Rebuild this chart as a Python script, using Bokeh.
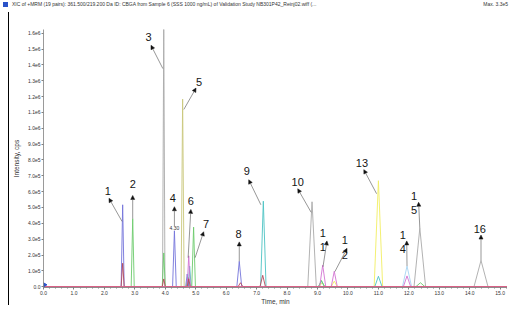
import numpy as np
from bokeh.plotting import figure
from bokeh.models import Range1d, FixedTicker, Arrow, NormalHead, ColumnDataSource, Div
from bokeh.layouts import column, row
from bokeh.core.properties import value
from bokeh.embed import file_html
from bokeh.resources import INLINE

# ---------------- texts ----------------
TITLE = "XIC of +MRM (19 pairs): 361.500/219.200 Da ID: CBGA from Sample 6 (SSS 1000 ng/mL) of Validation Study NB301P42_Reinj02.wiff (..."
MAX_TEXT = "Max. 3.3e5"
X_LABEL = "Time, min"
Y_LABEL = "Intensity, cps"

x_ticks = [0, 1, 2, 3, 4, 5, 6, 7, 8, 9, 10, 11, 12, 13, 14, 15]
x_tick_labels = ["0.0", "1.0", "2.0", "3.0", "4.0", "5.0", "6.0", "7.0", "8.0",
                 "9.0", "10.0", "11.0", "12.0", "13.0", "14.0", "15.0"]
y_ticks = [0, 1e5, 2e5, 3e5, 4e5, 5e5, 6e5, 7e5, 8e5, 9e5,
           1.0e6, 1.1e6, 1.2e6, 1.3e6, 1.4e6, 1.5e6, 1.6e6]
y_tick_labels = ["0.0", "1.0e5", "2.0e5", "3.0e5", "4.0e5", "5.0e5", "6.0e5", "7.0e5", "8.0e5",
                 "9.0e5", "1.0e6", "1.1e6", "1.2e6", "1.3e6", "1.4e6", "1.5e6", "1.6e6"]

# ---------------- traces: retention time (min), apex (cps), half base width (min) ----------------
blue_rt = [2.60, 4.30, 4.72, 6.43]
blue_h = [5.17e5, 3.53e5, 0.8e5, 1.60e5]
blue_w = [0.05, 0.06, 0.05, 0.08]

red_rt = [2.60, 3.95, 4.77, 6.47, 7.20]
red_h = [1.48e5, 0.49e5, 0.5e5, 0.25e5, 0.72e5]
red_w = [0.05, 0.05, 0.05, 0.08, 0.09]

green_rt = [2.93, 3.95, 4.74, 4.93, 9.13, 12.38]
green_h = [4.29e5, 2.13e5, 0.6e5, 3.76e5, 0.4e5, 0.25e5]
green_w = [0.05, 0.05, 0.05, 0.06, 0.10, 0.15]

gray_rt = [3.95, 8.82, 12.36, 14.37]
gray_h = [1.63e6, 5.36e5, 3.70e5, 1.66e5]
gray_w = [0.04, 0.14, 0.19, 0.23]

olive_rt = [4.57]
olive_h = [1.184e6]
olive_w = [0.05]

magenta_rt = [4.77, 9.17, 9.55, 11.94]
magenta_h = [1.95e5, 1.36e5, 0.97e5, 0.68e5]
magenta_w = [0.05, 0.10, 0.10, 0.12]

teal_rt = [4.80, 7.22, 9.13, 11.00]
teal_h = [1.3e5, 5.40e5, 0.35e5, 0.66e5]
teal_w = [0.05, 0.09, 0.10, 0.12]

yellow_rt = [9.15, 9.55, 11.00]
yellow_h = [0.25e5, 0.35e5, 6.69e5]
yellow_w = [0.10, 0.10, 0.14]

lightblue_rt = [11.94]
lightblue_h = [1.30e5]
lightblue_w = [0.15]

# ---------------- peak annotations ----------------
peak_labels = ["1", "2", "3", "4", "5", "6", "7", "8", "9", "10",
               "1\n1", "1\n2", "13", "1\n4", "1\n5", "16"]
label_x = [2.11, 2.93, 3.45, 4.25, 5.11, 4.84, 5.34, 6.41, 6.68, 8.35, 9.17, 9.90, 10.46, 11.80, 12.17, 14.33]
label_y = [6.05e5, 6.46e5, 1.577e6, 5.58e5, 1.295e6, 5.40e5, 3.93e5, 3.35e5, 7.28e5, 6.59e5,
           2.95e5, 2.48e5, 7.80e5, 2.83e5, 5.30e5, 3.67e5]
arrow_x0 = [2.58, 2.93, 3.92, 4.30, 4.61, 4.75, 4.98, 6.43, 7.14, 8.79, 9.18, 9.57, 10.94, 11.94, 12.36, 14.37]
arrow_y0 = [4.12e5, 4.29e5, 1.377e6, 3.80e5, 1.119e6, 1.83e5, 1.83e5, 1.60e5, 5.17e5, 4.70e5,
            1.25e5, 0.95e5, 5.87e5, 1.30e5, 3.70e5, 1.66e5]
arrow_x1 = [2.15, 2.93, 3.53, 4.30, 5.01, 4.84, 5.26, 6.43, 6.74, 8.35, 9.31, 9.97, 10.52, 11.93, 12.32, 14.37]
arrow_y1 = [5.58e5, 5.76e5, 1.524e6, 5.05e5, 1.254e6, 4.88e5, 3.47e5, 2.83e5, 6.75e5, 6.18e5,
            2.89e5, 2.42e5, 7.39e5, 2.89e5, 5.33e5, 3.26e5]
rt_label_text = ["4.30"]
rt_label_x = [4.30]
rt_label_y = [3.53e5]

# ---------------- layout ----------------
TOTAL_W = 510
TITLE_H = 12
LEFT_W = 9
MT, MB = 17, 18
FW, FH = 464, 258
XMIN, XMAX = 0.0, 15.24
YMIN, YMAX = -5e3, 1.6236e6
FONT = "Liberation Sans"

p = figure(frame_width=FW, frame_height=FH, output_backend="svg", toolbar_location=None,
           x_range=Range1d(XMIN, XMAX), y_range=Range1d(YMIN, YMAX),
           min_border_left=0, min_border_right=0, min_border_top=MT, min_border_bottom=0,
           margin=0)
p.outline_line_color = None
p.xgrid.visible = False
p.ygrid.visible = False
p.background_fill_color = "white"
p.border_fill_color = "white"

for ax in (p.xaxis[0], p.yaxis[0]):
    ax.axis_line_color = "#808080"
    ax.axis_line_width = 0.8
    ax.major_tick_line_color = "#808080"
    ax.minor_tick_line_color = "#808080"
    ax.major_tick_in = 0
    ax.major_tick_out = 2
    ax.minor_tick_in = 0
    ax.minor_tick_out = 1
    ax.major_label_text_font = FONT
    ax.major_label_text_font_size = "5px"
    ax.major_label_text_color = "#333333"
    ax.major_label_standoff = 1
    ax.axis_label_text_font = FONT
    ax.axis_label_text_font_size = "6.5px"
    ax.axis_label_text_font_style = "normal"
    ax.axis_label_text_color = "#333333"

p.xaxis[0].ticker = FixedTicker(ticks=x_ticks, minor_ticks=[i * 0.2 for i in range(0, 77)])
p.xaxis[0].major_label_overrides = {t: l for t, l in zip(x_ticks, x_tick_labels)}
p.xaxis[0].axis_label = X_LABEL
p.xaxis[0].axis_label_standoff = 0
p.yaxis[0].ticker = FixedTicker(ticks=y_ticks, minor_ticks=[])
p.yaxis[0].major_label_overrides = {t: l for t, l in zip(y_ticks, y_tick_labels)}
p.yaxis[0].axis_label = Y_LABEL
p.yaxis[0].axis_label_standoff = 5

def trace(rts, hs, ws):
    xs, ys = [XMIN], [0.0]
    for rt, h, w in sorted(zip(rts, hs, ws)):
        xs += [rt - w, rt, rt + w]
        ys += [0.0, h, 0.0]
    xs.append(XMAX + 1)
    ys.append(0.0)
    return xs, ys

series = [
    (lightblue_rt, lightblue_h, lightblue_w, "#a6d4f2"),
    (olive_rt, olive_h, olive_w, "#c9c77c"),
    (gray_rt, gray_h, gray_w, "#a9a9a9"),
    (yellow_rt, yellow_h, yellow_w, "#f2ee62"),
    (teal_rt, teal_h, teal_w, "#4cc3c3"),
    (green_rt, green_h, green_w, "#6ccb6c"),
    (blue_rt, blue_h, blue_w, "#7474da"),
    (magenta_rt, magenta_h, magenta_w, "#d273d2"),
    (red_rt, red_h, red_w, "#b5485a"),
]
for rts, hs, ws, col in series:
    xs, ys = trace(rts, hs, ws)
    p.line(xs, ys, line_color=col, line_width=0.9)

# baseline trace drawn on top
p.line([XMIN, XMAX + 1], [0, 0], line_color="#e2648a", line_width=1.0)

# start marker
p.scatter([XMIN], [0.12e5], marker="triangle", angle=-np.pi / 2,
          size=6, fill_color="#2a52c8", line_color="#2a52c8")

# arrows
asrc = ColumnDataSource(dict(x0=arrow_x0, y0=arrow_y0, x1=arrow_x1, y1=arrow_y1))
p.add_layout(Arrow(x_start="x0", y_start="y0", x_end="x1", y_end="y1", source=asrc,
                   line_color="#6a6a6a", line_width=0.7,
                   end=NormalHead(size=4, fill_color="#111111", line_color="#111111", line_width=0.5)))

lsrc = ColumnDataSource(dict(x=label_x, y=label_y, t=peak_labels))
p.text(x="x", y="y", text="t", source=lsrc, text_font=value(FONT), text_font_size="11px",
       text_color="#151515", text_align="center", text_baseline="middle", text_line_height=1.2)

rsrc = ColumnDataSource(dict(x=rt_label_x, y=rt_label_y, t=rt_label_text))
p.text(x="x", y="y", text="t", source=rsrc, text_font=value(FONT), text_font_size="5px",
       text_color="#333333", text_align="center", text_baseline="bottom", y_offset=-1)

fig_h = MT + FH + MB

title_html = (
    f'<div style="position:relative;width:{TOTAL_W}px;height:{TITLE_H}px;'
    f'font-family:\'{FONT}\';font-size:5px;line-height:9px;color:#333333;white-space:nowrap;overflow:hidden;">'
    f'<span style="position:absolute;left:3px;top:2px;width:5px;height:5px;background:#2a52c8;"></span>'
    f'<span style="position:absolute;left:12px;top:0px;">{TITLE}</span>'
    f'<span style="position:absolute;right:2px;top:0px;">{MAX_TEXT}</span></div>'
)
title_div = Div(text=title_html, width=TOTAL_W, height=TITLE_H, margin=0)
line_html = (f'<div style="position:relative;width:{LEFT_W}px;height:{fig_h}px;">'
             f'<div style="position:absolute;left:8px;top:0px;width:1px;height:{fig_h}px;'
             f'background:#000000;"></div></div>')
left_line = Div(text=line_html, width=LEFT_W, height=fig_h, margin=0)

layout = column(title_div, row(left_line, p, spacing=0, margin=0), spacing=0, margin=0)

open("out.html", "w").write(file_html(layout, INLINE))
